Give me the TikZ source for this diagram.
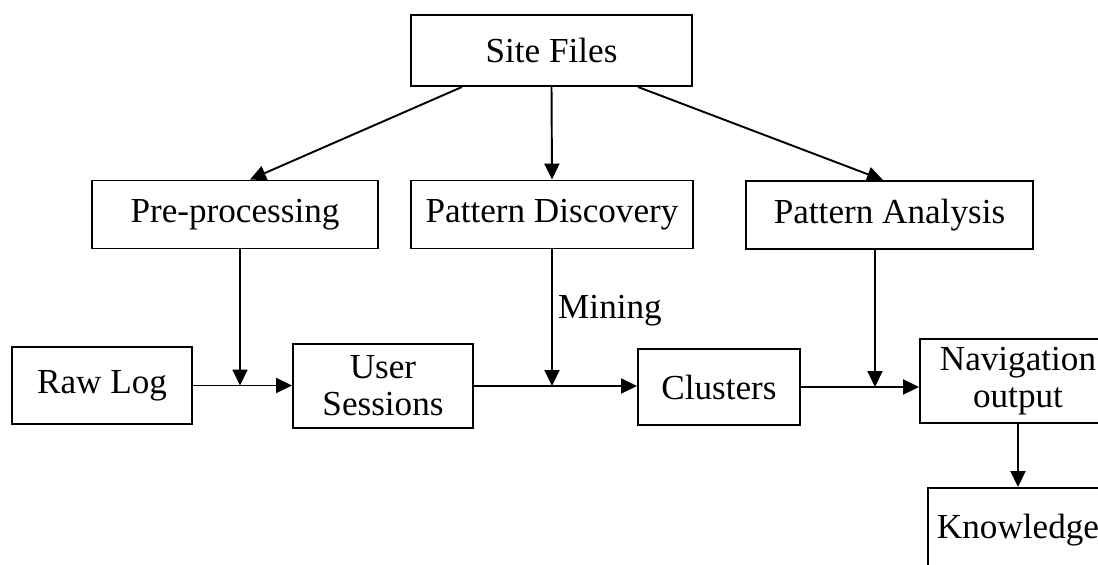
\documentclass[tikz,border=0pt]{standalone}
\usepackage{fontspec}
\setmainfont{Liberation Serif}
\usetikzlibrary{arrows.meta,positioning}

\begin{document}
\begin{tikzpicture}[font=\fontsize{20}{21}\selectfont,
  etape/.style={rectangle,draw,line width=1.1pt,text centered,align=center,
                inner sep=0pt},
  fleche/.style={-{Triangle[length=0.32cm,width=0.3cm]},line width=1.1pt}]

  \useasboundingbox (0,0) rectangle (21.96,-11.28);
  \clip (0,0) rectangle (21.96,-11.28);

  % source
  \node[etape,minimum width=5.62cm,minimum height=1.42cm] (SF) at (11.03,-1.01) {Site Files};

  % les trois phases
  \node[etape,minimum width=5.72cm,minimum height=1.36cm] (PP) at (4.70,-4.29) {Pre-processing};
  \node[etape,minimum width=5.64cm,minimum height=1.36cm] (PD) at (11.04,-4.29) {Pattern Discovery};
  \node[etape,minimum width=5.74cm,minimum height=1.36cm] (PA) at (17.79,-4.30) {Pattern Analysis};

  % chaine des donnees
  \node[etape,minimum width=3.6cm,minimum height=1.54cm] (RL) at (2.04,-7.71) {Raw Log};
  \node[etape,minimum width=3.6cm,minimum height=1.68cm] (US) at (7.66,-7.72) {User\\Sessions};
  \node[etape,minimum width=3.24cm,minimum height=1.52cm] (CL) at (14.38,-7.74) {Clusters};
  \node[etape,minimum width=3.92cm,minimum height=1.68cm] (NO) at (20.36,-7.62) {Navigation\\output};
  \node[etape,minimum width=3.6cm,minimum height=1.68cm] (KN) at (20.36,-10.6) {Knowledge};

  \draw[fleche] ([xshift=-1.79cm]SF.south) -- ([xshift=0.3cm]PP.north);
  \draw[fleche] (SF.south) -- (PD.north);
  \draw[fleche] ([xshift=1.73cm]SF.south) -- ([xshift=-0.13cm]PA.north);

  \draw[fleche] (RL.east) -- (RL.east -| US.west);
  \draw[fleche] (US.east) -- (US.east -| CL.west);
  \draw[fleche] (CL.east) -- (CL.east -| NO.west);
  \draw[fleche] (NO.south) -- (KN.north);

  \draw[fleche] ([xshift=0.1cm]PP.south) -- ([xshift=0.1cm]PP.south |- RL.east);
  \draw[fleche] (PD.south) -- (PD.south |- US.east)
    node[pos=0.45,right,inner sep=3pt] {Mining};
  \draw[fleche] ([xshift=-0.29cm]PA.south) -- ([xshift=-0.29cm]PA.south |- CL.east);
\end{tikzpicture}
\end{document}
